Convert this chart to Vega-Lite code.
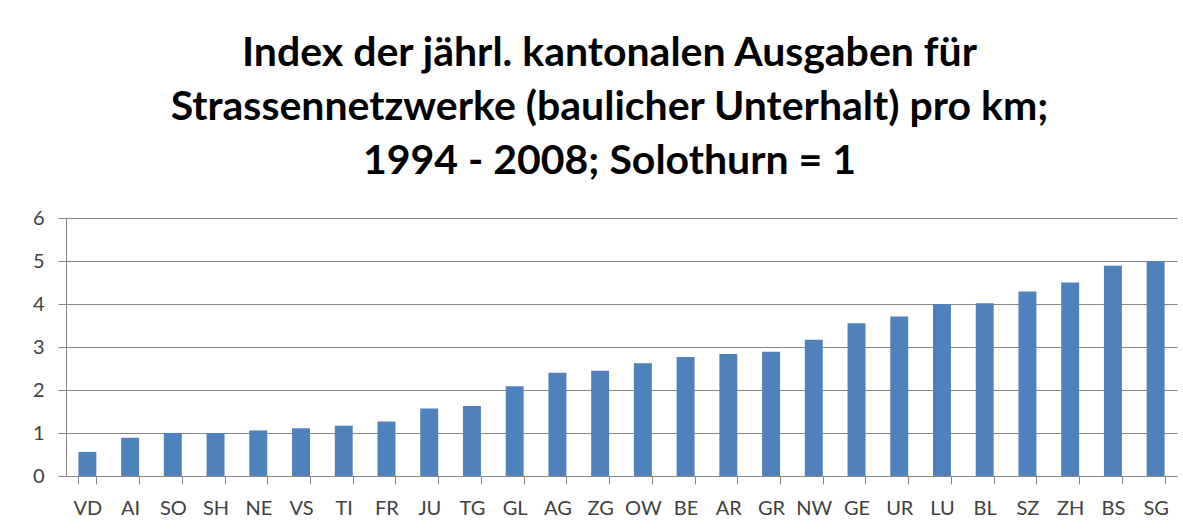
{
  "$schema": "https://vega.github.io/schema/vega-lite/v6.json",
  "autosize": {"type": "none"},
  "width": 1111,
  "height": 258,
  "padding": {"left": 66, "top": 218, "right": 6, "bottom": 54},
  "background": "white",
  "title": {
    "text": ["Index der jährl. kantonalen Ausgaben für", "Strassennetzwerke (baulicher Unterhalt) pro km;", "1994 - 2008; Solothurn = 1"],
    "font": "Lato",
    "fontSize": 41,
    "fontWeight": "bold",
    "color": "#000000",
    "lineHeight": 54,
    "anchor": "middle",
    "dx": -12,
    "offset": 25
  },
  "data": {
    "values": [
      {"Kanton": "VD", "Index": 0.56},
      {"Kanton": "AI", "Index": 0.89},
      {"Kanton": "SO", "Index": 1.0},
      {"Kanton": "SH", "Index": 1.0},
      {"Kanton": "NE", "Index": 1.06},
      {"Kanton": "VS", "Index": 1.11},
      {"Kanton": "TI", "Index": 1.17},
      {"Kanton": "FR", "Index": 1.27},
      {"Kanton": "JU", "Index": 1.57},
      {"Kanton": "TG", "Index": 1.63},
      {"Kanton": "GL", "Index": 2.09},
      {"Kanton": "AG", "Index": 2.4},
      {"Kanton": "ZG", "Index": 2.45},
      {"Kanton": "OW", "Index": 2.62},
      {"Kanton": "BE", "Index": 2.77},
      {"Kanton": "AR", "Index": 2.84},
      {"Kanton": "GR", "Index": 2.89},
      {"Kanton": "NW", "Index": 3.17},
      {"Kanton": "GE", "Index": 3.55},
      {"Kanton": "UR", "Index": 3.71},
      {"Kanton": "LU", "Index": 4.0},
      {"Kanton": "BL", "Index": 4.02},
      {"Kanton": "SZ", "Index": 4.29},
      {"Kanton": "ZH", "Index": 4.5},
      {"Kanton": "BS", "Index": 4.89},
      {"Kanton": "SG", "Index": 5.0}
    ]
  },
  "mark": {"type": "bar", "color": "#4F81BD"},
  "encoding": {
    "x": {
      "field": "Kanton",
      "type": "nominal",
      "sort": null,
      "title": null,
      "scale": {"paddingInner": 0.58, "paddingOuter": 0.29},
      "axis": {
        "labelAngle": 0,
        "labelFont": "Lato",
        "labelFontSize": 20,
        "labelColor": "#404040",
        "labelPadding": 14,
        "tickBand": "extent",
        "tickSize": 8,
        "tickColor": "#868686",
        "domainColor": "#868686",
        "grid": false
      }
    },
    "y": {
      "field": "Index",
      "type": "quantitative",
      "title": null,
      "scale": {"domain": [0, 6], "nice": false},
      "axis": {
        "values": [0, 1, 2, 3, 4, 5, 6],
        "labelFont": "Lato",
        "labelFontSize": 20,
        "labelColor": "#404040",
        "labelPadding": 14,
        "tickSize": 8,
        "tickColor": "#868686",
        "domainColor": "#868686",
        "gridColor": "#868686",
        "grid": true
      }
    }
  },
  "config": {"view": {"stroke": null}}
}
